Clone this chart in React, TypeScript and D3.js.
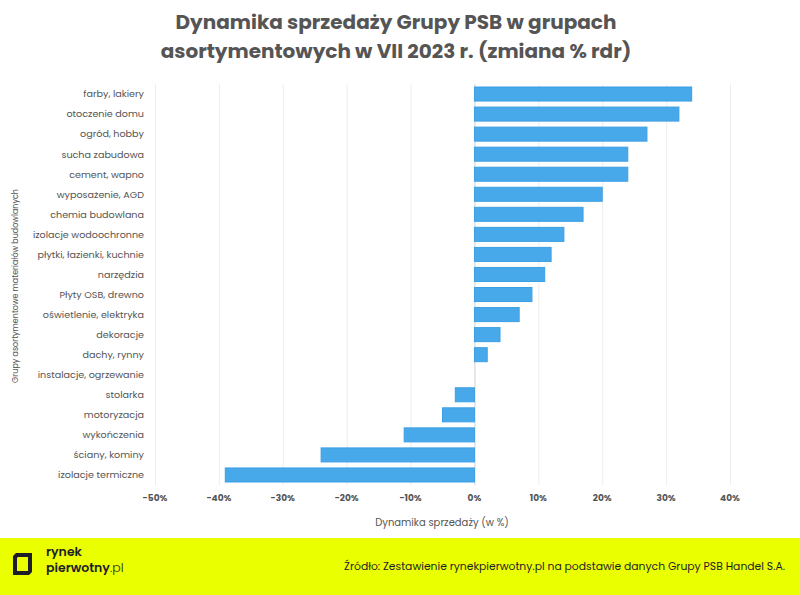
import { useEffect, useRef } from 'react'
import * as d3 from 'd3'

const categories = [
  'farby, lakiery',
  'otoczenie domu',
  'ogród, hobby',
  'sucha zabudowa',
  'cement, wapno',
  'wyposażenie, AGD',
  'chemia budowlana',
  'izolacje wodoochronne',
  'płytki, łazienki, kuchnie',
  'narzędzia',
  'Płyty OSB, drewno',
  'oświetlenie, elektryka',
  'dekoracje',
  'dachy, rynny',
  'instalacje, ogrzewanie',
  'stolarka',
  'motoryzacja',
  'wykończenia',
  'ściany, kominy',
  'izolacje termiczne',
]
const changes = [34, 32, 27, 24, 24, 20, 17, 14, 12, 11, 9, 7, 4, 2, 0, -3, -5, -11, -24, -39]
const xTicks = [-50, -40, -30, -20, -10, 0, 10, 20, 30, 40]

const titleLines = ['Dynamika sprzedaży Grupy PSB w grupach', 'asortymentowych w VII 2023 r. (zmiana % rdr)']
const xTitle = 'Dynamika sprzedaży (w %)'
const yTitle = 'Grupy asortymentowe materiałów budowlanych'
const source = 'Źródło: Zestawienie rynekpierwotny.pl na podstawie danych Grupy PSB Handel S.A.'

const FONT = "Poppins, 'Noto Sans', 'Open Sans', sans-serif"

function App() {
  const svg_ref = useRef<SVGSVGElement>(null)
  const width = 800,
        height = 595
  const margin = { left: 155, right: 70, top: 84, bottom: 110 }

  useEffect(() => {
    const svg = d3.select(svg_ref.current)
    svg.selectAll('*').remove()

    const x = d3.scaleLinear([-50, 40], [margin.left, width - margin.right])
    const y = d3.scaleBand(categories, [margin.top, height - margin.bottom])
      .paddingInner(0.3)
      .paddingOuter(0.15)

    // grid
    svg.append('g')
      .selectAll('line')
      .data(xTicks)
      .join('line')
      .attr('x1', d => x(d) + 0.5)
      .attr('x2', d => x(d) + 0.5)
      .attr('y1', margin.top)
      .attr('y2', height - margin.bottom)
      .attr('stroke', d => d === 0 ? '#d0d0d0' : '#ededed')
      .attr('stroke-width', 1)

    // bars
    svg.append('g')
      .selectAll('rect')
      .data(categories)
      .join('rect')
      .attr('x', (d, i) => x(Math.min(0, changes[i])))
      .attr('width', (d, i) => Math.abs(x(changes[i]) - x(0)))
      .attr('y', d => y(d)!)
      .attr('height', y.bandwidth())
      .attr('fill', '#48a9ea')
      .attr('stroke', '#3d9fe3')
      .attr('stroke-width', 1)

    // y axis labels
    svg.append('g')
      .selectAll('text')
      .data(categories)
      .join('text')
      .attr('x', margin.left - 11)
      .attr('y', d => y(d)! + y.bandwidth() / 2)
      .attr('dy', '0.35em')
      .attr('text-anchor', 'end')
      .attr('font-family', FONT)
      .attr('font-size', 9.6)
      .attr('fill', '#555')
      .text(d => d)

    // x axis labels
    svg.append('g')
      .selectAll('text')
      .data(xTicks)
      .join('text')
      .attr('x', d => x(d))
      .attr('y', height - margin.bottom + 16)
      .attr('text-anchor', 'middle')
      .attr('font-family', FONT)
      .attr('font-size', 9)
      .attr('font-weight', 'bold')
      .attr('fill', '#555')
      .text(d => `${d}%`)

    svg.append('text')
      .attr('x', 442)
      .attr('y', 526)
      .attr('text-anchor', 'middle')
      .attr('font-family', FONT)
      .attr('font-size', 10)
      .attr('fill', '#555')
      .text(xTitle)

    svg.append('text')
      .attr('transform', `translate(18, 286) rotate(-90)`)
      .attr('text-anchor', 'middle')
      .attr('font-family', FONT)
      .attr('font-size', 8)
      .attr('fill', '#555')
      .text(yTitle)

    // title
    svg.append('g')
      .selectAll('text')
      .data(titleLines)
      .join('text')
      .attr('x', 396)
      .attr('y', (d, i) => 29 + i * 29)
      .attr('text-anchor', 'middle')
      .attr('font-family', FONT)
      .attr('font-size', 20)
      .attr('font-weight', 'bold')
      .attr('fill', '#555')
      .text(d => d)

    // footer
    svg.append('rect')
      .attr('x', 0)
      .attr('y', 538)
      .attr('width', width)
      .attr('height', height - 538)
      .attr('fill', '#eaff00')

    svg.append('path')
      .attr('d', 'M13 556 L16 553 L32 553 L32 572 L29 575 L13 575 Z M17 558 L17 571 L28 571 L28 557 L18 557 Z')
      .attr('fill', '#1e1e2a')
      .attr('fill-rule', 'evenodd')

    svg.append('text')
      .attr('x', 46)
      .attr('y', 556)
      .attr('font-family', FONT)
      .attr('font-size', 12.5)
      .attr('font-weight', 600)
      .attr('fill', '#1e1e2a')
      .text('rynek')

    const t2 = svg.append('text')
      .attr('x', 46)
      .attr('y', 572)
      .attr('font-family', FONT)
      .attr('font-size', 12.5)
      .attr('fill', '#1e1e2a')
    t2.append('tspan').attr('font-weight', 600).text('pierwotny')
    t2.append('tspan').attr('font-weight', 300).text('.pl')

    svg.append('text')
      .attr('x', 785)
      .attr('y', 570)
      .attr('text-anchor', 'end')
      .attr('font-family', FONT)
      .attr('font-size', 10.8)
      .attr('fill', '#1e1e2a')
      .text(source)
  }, [])

  return (
    <svg
      ref={svg_ref}
      width={width}
      height={height}
      viewBox={`0 0 ${width} ${height}`}
      style={{ position: 'absolute', left: 0, top: 0, background: '#fff' }}
    />
  )
}

export default App
